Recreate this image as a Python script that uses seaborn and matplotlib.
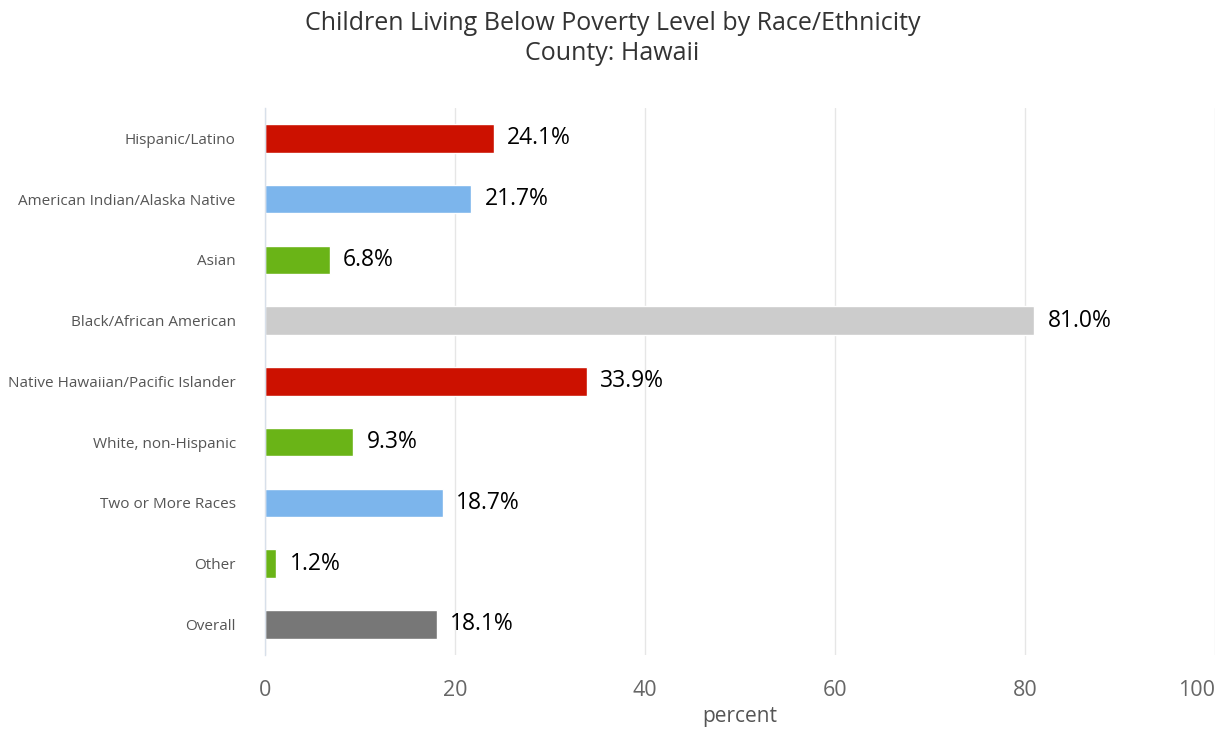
import pandas as pd
import seaborn as sns
import matplotlib.pyplot as plt

# Data
categories = [
    "Hispanic/Latino",
    "American Indian/Alaska Native",
    "Asian",
    "Black/African American",
    "Native Hawaiian/Pacific Islander",
    "White, non-Hispanic",
    "Two or More Races",
    "Other",
    "Overall",
]
values = [24.1, 21.7, 6.8, 81.0, 33.9, 9.3, 18.7, 1.2, 18.1]
bar_colors = ["#CC1100", "#7CB5EC", "#6AB417", "#CCCCCC", "#CC1100",
              "#6AB417", "#7CB5EC", "#6AB417", "#777777"]
x_ticks = [0, 20, 40, 60, 80, 100]

df = pd.DataFrame({"group": categories, "pct": values})

sns.set_theme(style="white")
plt.rcParams['font.family'] = ['Open Sans', 'DejaVu Sans']

fig = plt.figure(figsize=(12.25, 7.34), dpi=100)
ax = fig.add_axes([0.2163, 0.108, 0.7755, 0.745])

sns.barplot(data=df, x="pct", y="group", hue="group", palette=bar_colors,
            legend=False, width=0.47, saturation=1, ax=ax)

for i, v in enumerate(values):
    ax.text(v + 1.4, i, f"{v:.1f}%", va="center", ha="left",
            fontsize=16.5, color="black")

ax.set_xlim(0, 100)
ax.set_xticks(x_ticks)
ax.set_xticklabels([str(t) for t in x_ticks], fontsize=15.5, color="#666666")
# keep the last label inside the figure, as the original does
ax.xaxis.get_major_ticks()[-1].label1.set_horizontalalignment("right")
ax.tick_params(axis="y", labelsize=11, colors="#555555", length=0, pad=21)
ax.tick_params(axis="x", length=0, pad=18)
ax.set_ylabel("")
ax.set_xlabel("percent", fontsize=15, color="#555555", labelpad=4)

ax.grid(axis="x", color="#E6E6E6", linewidth=1)
ax.set_axisbelow(True)
for side in ["top", "right", "bottom"]:
    ax.spines[side].set_visible(False)
ax.spines["left"].set_color("#D8E0EA")
ax.spines["left"].set_linewidth(1)

fig.suptitle("Children Living Below Poverty Level by Race/Ethnicity\nCounty: Hawaii",
             fontsize=18, color="#333333", y=0.985, linespacing=1.25)

fig.savefig("out.png", dpi=100)
